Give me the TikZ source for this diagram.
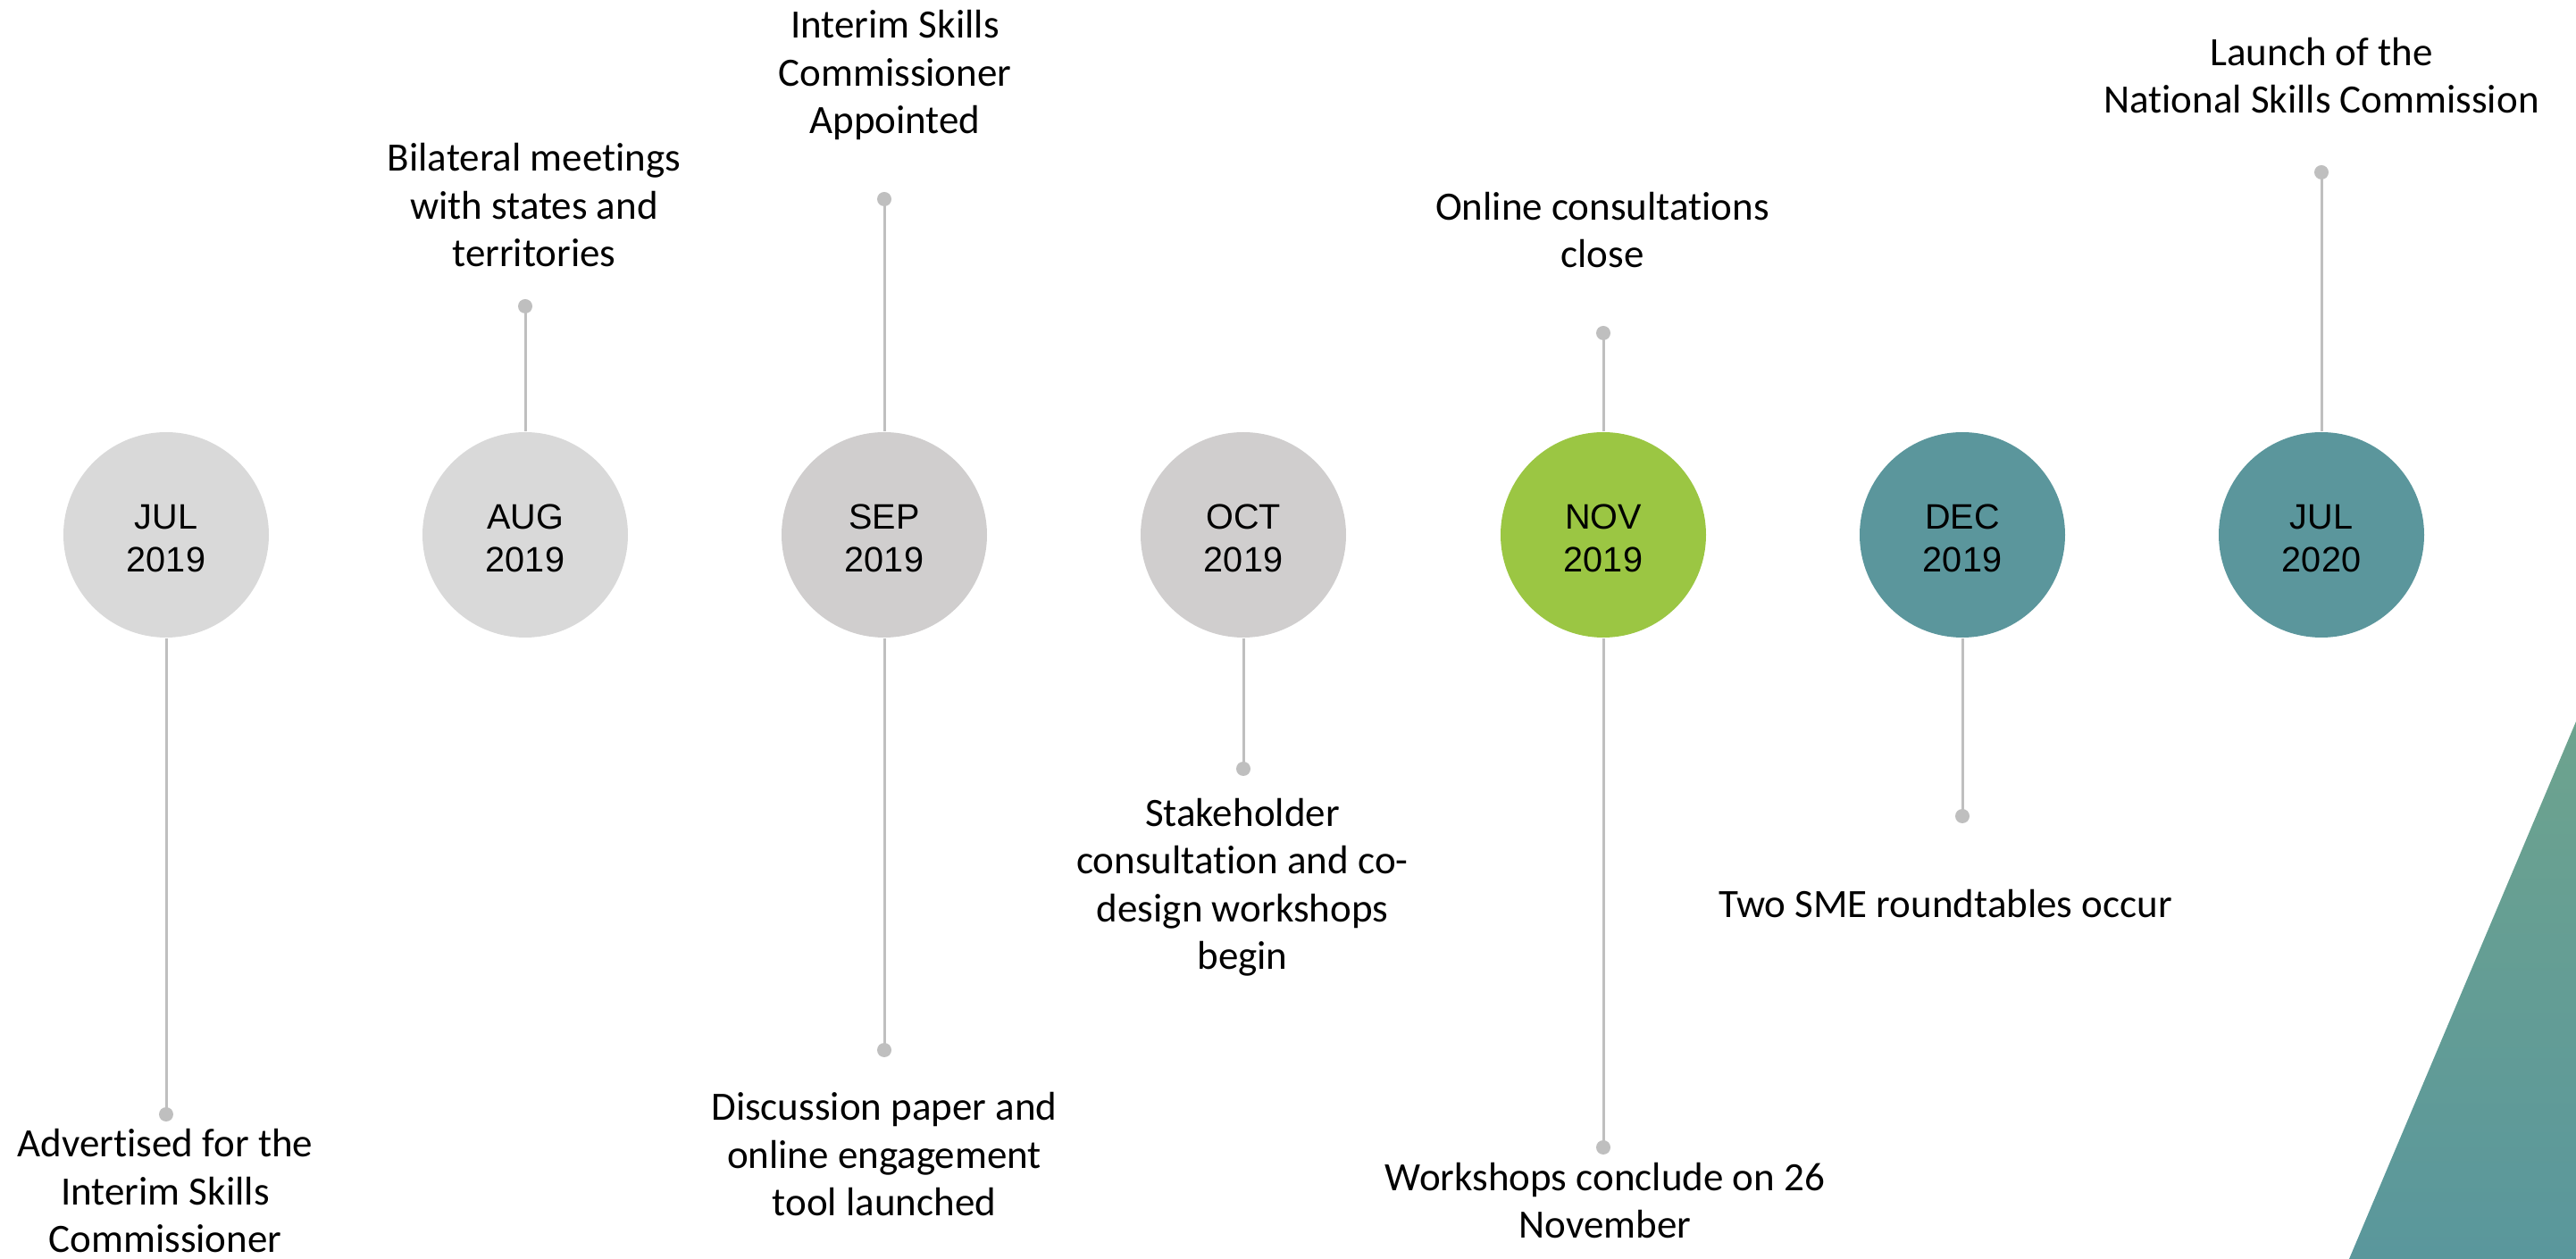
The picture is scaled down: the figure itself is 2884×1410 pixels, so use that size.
\documentclass[tikz,border=0pt]{standalone}
\usepackage{fontspec}
\setmainfont{Carlito}[Ligatures={NoCommon}]
\newfontfamily\arialf{Liberation Sans}
\definecolor{stemgray}{HTML}{BFBFBF}
\definecolor{lightg}{HTML}{D9D9D9}
\definecolor{midg}{HTML}{D0CECE}
\definecolor{novgreen}{HTML}{9BC643}
\definecolor{teal}{HTML}{5B969C}
\definecolor{triA}{HTML}{6DA38E}
\definecolor{triB}{HTML}{5A979C}
\tikzset{
  month/.style={circle, fill=#1, minimum size=57.5pt, inner sep=0pt, text height=20.9pt,
    font=\arialf\fontsize{9.9}{12}\selectfont, align=center, text=black},
  lbl/.style={font=\fontsize{11.25}{13.4}\selectfont, align=center, anchor=base, inner sep=0pt},
  stemline/.style={draw=stemgray, line width=0.75pt},
  pin/.style={circle, fill=stemgray, minimum size=4pt, inner sep=0pt}
}
\begin{document}
\begin{tikzpicture}[x=0.25pt, y=-0.25pt]
\useasboundingbox (0,0) rectangle (2884,1410);
% decorative triangle
\shade[top color=triA, bottom color=triB] (2884,808) -- (2884,1410) -- (2630,1410) -- cycle;
% month circles
\node[month=lightg]   (c1) at (186,599)  {JUL\\2019};
\node[month=lightg]   (c2) at (588,599)  {AUG\\2019};
\node[month=midg]     (c3) at (990,599)  {SEP\\2019};
\node[month=midg]     (c4) at (1392,599) {OCT\\2019};
\node[month=novgreen] (c5) at (1795,599) {NOV\\2019};
\node[month=teal]     (c6) at (2197,599) {DEC\\2019};
\node[month=teal]     (c7) at (2599,599) {JUL\\2020};
% pins
\node[pin] (p1)  at (186,1248) {};
\node[pin] (p2)  at (588,343)  {};
\node[pin] (p3t) at (990,223)  {};
\node[pin] (p3b) at (990,1176) {};
\node[pin] (p4)  at (1392,861) {};
\node[pin] (p5t) at (1795,373) {};
\node[pin] (p5b) at (1795,1285) {};
\node[pin] (p6)  at (2197,914) {};
\node[pin] (p7)  at (2599,193) {};
% stems
\draw[stemline] (c1.south) -- (p1.center);
\draw[stemline] (c2.north) -- (p2.center);
\draw[stemline] (c3.north) -- (p3t.center);
\draw[stemline] (c3.south) -- (p3b.center);
\draw[stemline] (c4.south) -- (p4.center);
\draw[stemline] (c5.north) -- (p5t.center);
\draw[stemline] (c5.south) -- (p5b.center);
\draw[stemline] (c6.south) -- (p6.center);
\draw[stemline] (c7.north) -- (p7.center);
% labels (anchored at the baseline of their last line)
\node[lbl] (l1)  at (185,1403)  {Advertised for the\\Interim Skills\\Commissioner};
\node[lbl] (l2)  at (598,299)   {Bilateral meetings\\with states and\\territories};
\node[lbl] (l3t) at (1002,150)  {Interim Skills\\Commissioner\\Appointed};
\node[lbl] (l3b) at (990,1362)  {Discussion paper and\\online engagement\\tool launched};
\node[lbl] (l4)  at (1391,1086) {Stakeholder\\consultation and co-\\design workshops\\begin};
\node[lbl] (l5t) at (1794,300)  {Online consultations\\close};
\node[lbl] (l5b) at (1797,1387) {Workshops conclude on 26\\November};
\node[lbl] (l6)  at (2178,1028) {Two SME roundtables occur};
\node[lbl] (l7)  at (2599,127)  {Launch of the\\National Skills Commission};
\end{tikzpicture}
\end{document}
